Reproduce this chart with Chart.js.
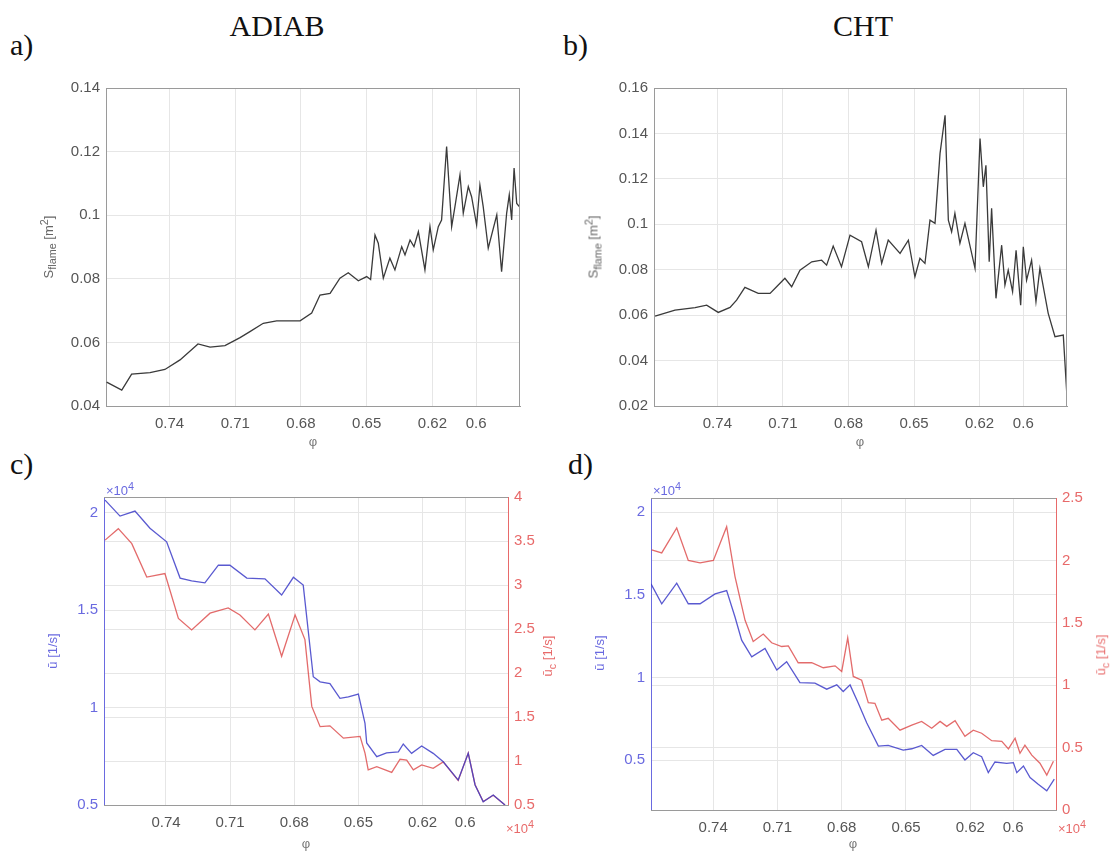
<!DOCTYPE html>
<html>
<head>
<meta charset="utf-8">
<script src="https://cdn.jsdelivr.net/npm/chart.js@4.4.1/dist/chart.umd.min.js"></script>
<style>
  body { margin:0; background:#fff; width:1110px; height:854px; position:relative; overflow:hidden;
         font-family:"Liberation Sans", Arial, sans-serif; }
  canvas { position:absolute; }
  .serif { position:absolute; font-family:"Liberation Serif","DejaVu Serif",serif; color:#111; white-space:nowrap; }
  .head { font-size:30px; transform:translateX(-50%); }
  .tag { font-size:30px; }
  .lab { position:absolute; font-size:13px; color:#666; white-space:nowrap; transform:translate(-50%,-50%) rotate(-90deg); }
  .phi { position:absolute; font-size:13px; color:#777; transform:translateX(-50%); }
  .exp { position:absolute; font-size:13px; white-space:nowrap; }
</style>
</head>
<body>

<div class="serif head" style="left:277px;top:9px">ADIAB</div>
<div class="serif head" style="left:863px;top:9px">CHT</div>
<div class="serif tag" style="left:10px;top:28px">a)</div>
<div class="serif tag" style="left:563px;top:28px">b)</div>
<div class="serif tag" style="left:10px;top:447px">c)</div>
<div class="serif tag" style="left:568px;top:447px">d)</div>

<canvas id="chartA" width="555" height="400" style="left:0;top:60px"></canvas>
<canvas id="chartB" width="555" height="400" style="left:555px;top:60px"></canvas>
<canvas id="chartC" width="555" height="394" style="left:0;top:460px"></canvas>
<canvas id="chartD" width="555" height="394" style="left:555px;top:460px"></canvas>

<div class="lab" style="left:48px;top:247px">S<sub>flame</sub> [m<sup>2</sup>]</div>
<div class="lab" style="left:593px;top:247px">S<sub>flame</sub> [m<sup>2</sup>]</div>
<div class="lab" style="left:52px;top:651px;color:#6a6ae0">ū [1/s]</div>
<div class="lab" style="left:549px;top:656px;color:#e86a6a">ū<sub>c</sub> [1/s]</div>
<div class="lab" style="left:599px;top:653px;color:#6a6ae0">ū [1/s]</div>
<div class="lab" style="left:1102px;top:655px;color:#e86a6a">ū<sub>c</sub> [1/s]</div>

<div class="phi" style="left:313px;top:434px">φ</div>
<div class="phi" style="left:860px;top:434px">φ</div>
<div class="phi" style="left:306px;top:836px">φ</div>
<div class="phi" style="left:853px;top:836px">φ</div>

<div class="exp" style="left:106px;top:480px;color:#6a6ae0">×10<sup>4</sup></div>
<div class="exp" style="left:506px;top:818px;color:#e86a6a">×10<sup>4</sup></div>
<div class="exp" style="left:653px;top:480px;color:#6a6ae0">×10<sup>4</sup></div>
<div class="exp" style="left:1058px;top:818px;color:#e86a6a">×10<sup>4</sup></div>

<script>
// equivalence ratio ticks (axis runs from rich to lean)
var phiTicks = [0.74, 0.71, 0.68, 0.65, 0.62, 0.6];
var phiMin = 0.58, phiMax = 0.769;

// a) ADIAB flame surface [m^2]
var aPhi = [0.7687,0.7618,0.7573,0.7489,0.7421,0.7352,0.7270,0.7215,0.7147,0.7078,0.7033,0.6972,0.6911,0.6804,
            0.6751,0.6713,0.6667,0.6622,0.6584,0.6538,0.6500,0.6482,0.6462,0.6447,0.6424,0.6394,0.6371,0.6340,
            0.6325,0.6302,0.6284,0.6264,0.6234,0.6211,0.6196,0.6173,0.6158,0.6135,0.6112,0.6097,0.6074,0.6059,
            0.6036,0.6021,0.5998,0.5983,0.5968,0.5945,0.5906,0.5884,0.5861,0.5849,0.5838,0.5827,0.5815,0.5803];
var aS   = [0.0475,0.0450,0.0500,0.0505,0.0515,0.0545,0.0595,0.0585,0.0590,0.0615,0.0634,0.0660,0.0668,0.0668,
            0.0692,0.0749,0.0754,0.0802,0.0819,0.0794,0.0807,0.0798,0.0938,0.0912,0.0802,0.0865,0.0828,0.0901,
            0.0875,0.0922,0.0901,0.0948,0.0828,0.0964,0.0891,0.0964,0.0985,0.1216,0.0964,0.1027,0.1127,0.1006,
            0.1090,0.1058,0.0969,0.1095,0.1027,0.0896,0.1001,0.0822,0.1006,0.1064,0.0985,0.1148,0.1037,0.1027];

// b) CHT flame surface [m^2]
var bPhi = [0.7685,0.7594,0.7502,0.7449,0.7396,0.7342,0.7312,0.7274,0.7213,0.7159,0.7129,0.7091,0.7060,0.7022,
            0.6968,0.6923,0.6900,0.6870,0.6832,0.6793,0.6740,0.6709,0.6674,0.6648,0.6618,0.6564,0.6526,0.6496,
            0.6473,0.6450,0.6427,0.6404,0.6381,0.6358,0.6343,0.6328,0.6313,0.6290,0.6267,0.6221,0.6198,0.6183,
            0.6171,0.6156,0.6145,0.6125,0.6099,0.6084,0.6069,0.6049,0.6033,0.6012,0.6000,0.5985,0.5962,0.5942,
            0.5924,0.5886,0.5855,0.5817,0.5800];
var bS   = [0.0596,0.0622,0.0633,0.0644,0.0612,0.0634,0.0666,0.0722,0.0696,0.0696,0.0725,0.0762,0.0725,0.0798,
            0.0835,0.0842,0.0820,0.0904,0.0813,0.0952,0.0923,0.0813,0.0974,0.0828,0.0930,0.0872,0.0930,0.0769,
            0.0850,0.0828,0.1018,0.1004,0.1312,0.1480,0.1018,0.0967,0.1048,0.0916,0.1004,0.0806,0.1378,0.1165,
            0.1260,0.0835,0.1070,0.0674,0.0908,0.0732,0.0798,0.0703,0.0886,0.0644,0.0901,0.0754,0.0842,0.0659,
            0.0806,0.0608,0.0505,0.0512,0.0241];

// c) ADIAB, values in units of 1e4 [1/s]
var cBluePhi = [0.7685,0.7615,0.7545,0.7475,0.7397,0.7334,0.7280,0.7218,0.7155,0.7101,0.7022,0.6937,0.6859,
                0.6804,0.6758,0.6711,0.6679,0.6633,0.6586,0.6547,0.6500,0.6469,0.6461,0.6414,0.6368,0.6313,
                0.6290,0.6251,0.6204,0.6150,0.6103,0.6033,0.5986,0.5954,0.5916,0.5869,0.5814];
var cBlue    = [2.064,1.982,2.008,1.920,1.850,1.664,1.650,1.640,1.730,1.730,1.664,1.660,1.577,
                1.668,1.628,1.158,1.132,1.123,1.047,1.055,1.069,0.919,0.818,0.748,0.767,0.773,
                0.813,0.765,0.803,0.765,0.722,0.628,0.765,0.603,0.517,0.551,0.500];
var cRedPhi  = [0.7685,0.7623,0.7560,0.7490,0.7405,0.7342,0.7280,0.7194,0.7109,0.7054,0.6984,0.6921,0.6859,
                0.6796,0.6750,0.6718,0.6679,0.6633,0.6570,0.6492,0.6469,0.6454,0.6414,0.6344,0.6305,0.6274,
                0.6243,0.6204,0.6150,0.6103,0.6033,0.5986,0.5954,0.5916,0.5869,0.5814];
var cRed     = [3.51,3.64,3.47,3.09,3.13,2.62,2.49,2.68,2.74,2.66,2.49,2.67,2.19,
                2.66,2.38,1.62,1.39,1.40,1.26,1.28,1.09,0.90,0.935,0.87,1.02,1.01,
                0.90,0.955,0.917,0.99,0.78,1.09,0.73,0.54,0.61,0.50];

// d) CHT, values in units of 1e4 [1/s]
var dBluePhi = [0.7690,0.7640,0.7570,0.7516,0.7461,0.7391,0.7337,0.7298,0.7267,0.7220,0.7158,0.7103,0.7057,
                0.6995,0.6925,0.6870,0.6823,0.6793,0.6761,0.6723,0.6683,0.6629,0.6583,0.6513,0.6473,0.6427,
                0.6373,0.6318,0.6263,0.6225,0.6186,0.6147,0.6116,0.6085,0.6030,0.5999,0.5983,0.5952,0.5921,
                0.5883,0.5843,0.5808];
var dBlue    = [1.566,1.446,1.570,1.446,1.446,1.506,1.526,1.366,1.226,1.126,1.176,1.046,1.096,
                0.970,0.966,0.930,0.956,0.916,0.956,0.846,0.726,0.586,0.590,0.562,0.570,0.590,
                0.530,0.566,0.566,0.502,0.546,0.522,0.426,0.490,0.482,0.486,0.426,0.466,0.396,
                0.356,0.316,0.386];
var dRedPhi  = [0.7687,0.7640,0.7570,0.7516,0.7461,0.7399,0.7337,0.7298,0.7251,0.7213,0.7166,0.7127,0.7080,
                0.7049,0.7003,0.6940,0.6886,0.6831,0.6800,0.6772,0.6746,0.6707,0.6676,0.6645,0.6613,0.6583,
                0.6528,0.6473,0.6427,0.6380,0.6341,0.6310,0.6271,0.6225,0.6186,0.6147,0.6100,0.6053,0.6022,
                0.5991,0.5968,0.5945,0.5913,0.5875,0.5843,0.5812];
var dRed     = [2.085,2.06,2.26,2.00,1.98,2.00,2.27,1.87,1.52,1.35,1.41,1.34,1.31,
                1.315,1.18,1.18,1.14,1.155,1.11,1.38,1.07,1.04,0.86,0.855,0.72,0.735,
                0.64,0.68,0.71,0.655,0.71,0.67,0.715,0.59,0.64,0.615,0.555,0.55,0.49,
                0.575,0.455,0.52,0.44,0.375,0.28,0.39];
</script>

<script>
	var GRID = '#e6e6e6', BOX = '#9a9a9a', TICK = '#555'
	var BLUE_AX = '#6a6ae0', RED_AX = '#e86a6a'
	var Y_W = 56, YR_W = 46, X_H = 34

	function pts(xs, ys)
	{
		return xs.map(function(x, i) { return {x: x, y: ys[i]} })
	}

	// matlab style labels: 0.1, 2, 1.5 (no padded zeros)
	function shortNum(v)
	{
		return String(+(+v).toFixed(3))
	}

	// draws the top edge of the box (and right edge when there is no right axis)
	var framePlugin = {
		id: 'frame',
		afterDraw: function(chart) {
			var a = chart.chartArea, ctx = chart.ctx
			ctx.save()
			ctx.strokeStyle = BOX
			ctx.lineWidth = 1
			ctx.beginPath()
			ctx.moveTo(a.left, a.top + 0.5)
			ctx.lineTo(a.right, a.top + 0.5)
			if (!chart.options.scales.yr) {
				ctx.moveTo(a.right - 0.5, a.top)
				ctx.lineTo(a.right - 0.5, a.bottom)
			}
			ctx.stroke()
			ctx.restore()
		}
	}

	function xScale()
	{
		return {
			type: 'linear', reverse: true, min: phiMin, max: phiMax,
			afterBuildTicks: function(s) { s.ticks = phiTicks.map(function(v) { return {value: v} }) },
			afterFit: function(s) { s.height = X_H },
			grid: {color: GRID, drawTicks: false},
			border: {display: true, color: BOX},
			ticks: {padding: 9, color: TICK, font: {size: 15, family: 'Liberation Sans'}, callback: shortNum}
		}
	}

	function yScale(opt, color, pos, list)
	{
		var s = {
			type: 'linear', position: pos, min: opt.min, max: opt.max,
			afterFit: function(sc) { sc.width = pos == 'left' ? Y_W : YR_W },
			grid: {color: GRID, drawTicks: false},
			border: {display: true, color: color},
			ticks: {padding: 6, color: color == BOX ? TICK : color, font: {size: 15, family: 'Liberation Sans'},
			        callback: shortNum}
		}
		if (opt.step) s.ticks.stepSize = opt.step
		if (list) s.afterBuildTicks = function(sc) { sc.ticks = list.map(function(v) { return {value: v} }) }
		return s
	}

	function makePanel(id, box, area, datasets, scales)
	{
		var hasRight = !!scales.yr
		var pad = {
			left: area.l - box.x - Y_W,
			right: box.x + box.w - area.r - (hasRight ? YR_W : 0),
			top: area.t - box.y,
			bottom: box.y + box.h - area.b - X_H
		}
		scales.x = xScale()
		return new Chart(document.getElementById(id), {
			type: 'line',
			data: {datasets: datasets},
			options: {
				responsive: false, animation: false, devicePixelRatio: 1,
				layout: {padding: pad, autoPadding: false},
				plugins: {legend: {display: false}, tooltip: {enabled: false}},
				elements: {point: {radius: 0}, line: {borderWidth: 1.3, tension: 0}},
				scales: scales
			},
			plugins: [framePlugin]
		})
	}

	makePanel('chartA', {x: 0, y: 60, w: 555, h: 400}, {l: 106, t: 88, r: 520, b: 406},
		[{data: pts(aPhi, aS), borderColor: '#3a3a3a', yAxisID: 'y'}],
		{y: yScale({min: 0.04, max: 0.14, step: 0.02}, BOX, 'left')})

	makePanel('chartB', {x: 555, y: 60, w: 555, h: 400}, {l: 654, t: 88, r: 1067, b: 406},
		[{data: pts(bPhi, bS), borderColor: '#3a3a3a', yAxisID: 'y'}],
		{y: yScale({min: 0.02, max: 0.16, step: 0.02}, BOX, 'left')})

	makePanel('chartC', {x: 0, y: 460, w: 555, h: 394}, {l: 104, t: 497, r: 508, b: 805},
		[{data: pts(cBluePhi, cBlue), borderColor: 'rgba(60,60,200,0.85)', yAxisID: 'y'},
		 {data: pts(cRedPhi, cRed), borderColor: 'rgba(220,70,70,0.8)', yAxisID: 'yr'}],
		{y: yScale({min: 0.5, max: 2.08}, BLUE_AX, 'left', [0.5, 1, 1.5, 2]),
		 yr: yScale({min: 0.5, max: 4, step: 0.5}, RED_AX, 'right')})

	makePanel('chartD', {x: 555, y: 460, w: 555, h: 394}, {l: 651, t: 498, r: 1056, b: 810},
		[{data: pts(dBluePhi, dBlue), borderColor: 'rgba(60,60,200,0.85)', yAxisID: 'y'},
		 {data: pts(dRedPhi, dRed), borderColor: 'rgba(220,70,70,0.8)', yAxisID: 'yr'}],
		{y: yScale({min: 0.2, max: 2.085}, BLUE_AX, 'left', [0.5, 1, 1.5, 2]),
		 yr: yScale({min: 0, max: 2.5, step: 0.5}, RED_AX, 'right')})
</script>
</body>
</html>
